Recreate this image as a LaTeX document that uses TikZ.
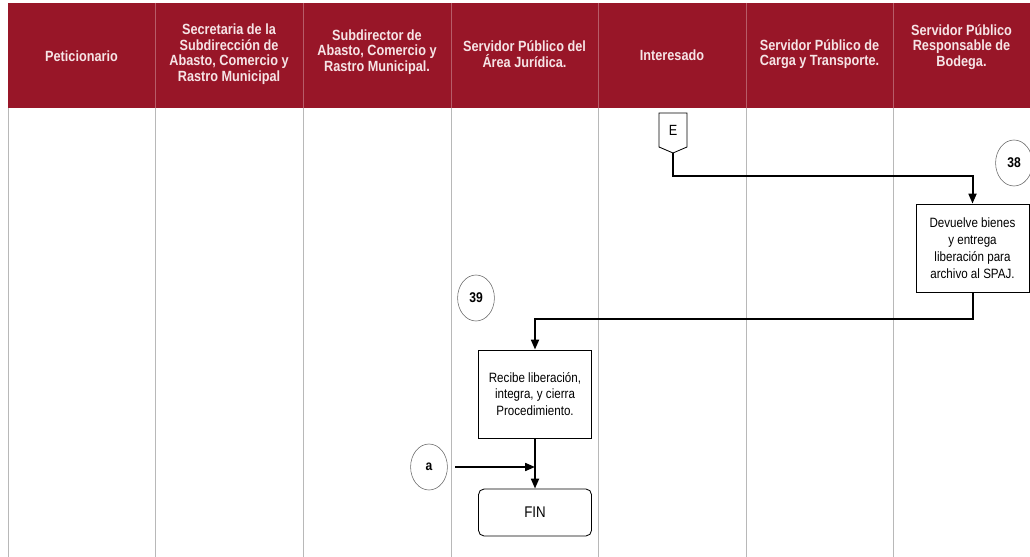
\documentclass[tikz,border=0pt]{standalone}
\usepackage{fontspec}
\setmainfont{Liberation Sans}
\newfontfamily\narrowfont{Liberation Sans}[FakeStretch=0.86]
\usetikzlibrary{shapes.geometric,arrows.meta,calc}
\definecolor{guinda}{RGB}{152,22,40}
\definecolor{hdrtxt}{RGB}{246,228,230}
\tikzset{
  hdrtext/.style = {text=hdrtxt, font=\narrowfont\bfseries\fontsize{10.5}{11}\selectfont, align=center},
  lane/.style = {draw=black!28, line width=0.6pt},
  hdrline/.style = {draw=guinda!70!white, line width=0.5pt},
  actbox/.style = {draw, line width=0.6pt, minimum width=2.825cm, minimum height=2.2cm, align=center, font=\narrowfont\fontsize{9.6}{12}\selectfont},
  finbox/.style = {draw, rounded corners=4pt, line width=0.6pt, minimum width=2.825cm, minimum height=1.175cm, font=\narrowfont\fontsize{11}{12}\selectfont},
  stepnum/.style = {draw=black!60, ellipse, line width=0.4pt, minimum width=0.92cm, minimum height=1.15cm, inner sep=0pt, font=\narrowfont\bfseries\fontsize{10}{11}\selectfont},
  flow/.style = {line width=1.4pt, -{Triangle[length=7pt,width=5.6pt]}}
}
\begin{document}
\begin{tikzpicture}[x=0.025cm, y=-0.025cm]
\useasboundingbox (0,0) rectangle (1030,557);
%header band
\fill[guinda] (8,3) rectangle (1030,108);
\foreach \x in {155,303,451,598,746,893}
  \draw[hdrline] (\x,3) -- (\x,108);
%swim lanes
\foreach \x in {8,155,303,451,598,746,893}
  \draw[lane] (\x,108) -- (\x,557);
%lane titles
\node[hdrtext] (h1) at (81.5,56) {Peticionario};
\node[hdrtext] (h2) at (229,54) {Secretaria de la\\Subdirección de\\Abasto, Comercio y\\Rastro Municipal};
\node[hdrtext] (h3) at (377,52) {Subdirector de\\Abasto, Comercio y\\Rastro Municipal.};
\node[hdrtext] (h4) at (524.5,54) {Servidor Público del\\Área Jurídica.};
\node[hdrtext] (h5) at (672,55) {Interesado};
\node[hdrtext] (h6) at (819.5,54) {Servidor Público de\\Carga y Transporte.};
\node[hdrtext] (h7) at (961.5,47) {Servidor Público\\Responsable de\\Bodega.};
%off page connector
\draw[line width=0.6pt] (659,113) -- (687,113) -- (687,147) -- (673,153) -- (659,147) -- cycle;
\node[font=\narrowfont\fontsize{10.5}{11}\selectfont] (E) at (673,130) {E};
\coordinate (Etip) at (673,153);
%activities
\node[stepnum] (n38) at (1014,163) {38};
\node[actbox] (b38) at (972.5,248) {Devuelve bienes\\y entrega\\liberación para\\archivo al SPAJ.};
\node[stepnum] (n39) at (476,298) {39};
\node[actbox] (b39) at (535,394) {Recibe liberación,\\integra, y cierra\\Procedimiento.};
\node[finbox] (fin) at (535,512.5) {FIN};
\node[stepnum] (ca) at (429,467) {a};
%connectors
\draw[flow] (Etip) -- ++(0,23) -| (b38);
\draw[flow] (b38.south) -- ++(0,27) -| (b39);
\draw[flow] (b39) -- (fin);
\coordinate (join) at (b39.south |- ca);
\draw[flow, shorten <=5.5pt] (ca) -- (join);
\end{tikzpicture}
\end{document}
